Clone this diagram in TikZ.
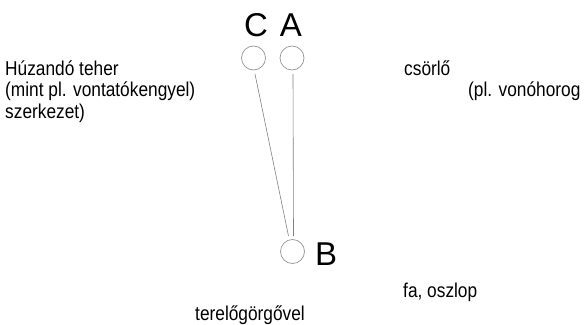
\documentclass[tikz,border=0pt]{standalone}
\usepackage{fontspec}
\setmainfont{Liberation Sans}
\newfontfamily\narrowfont[FakeStretch=0.865]{Liberation Sans}
\begin{document}
\begin{tikzpicture}[x=1pt,y=-1pt,
  lbl/.style={inner sep=0pt,font=\narrowfont\fontsize{20}{21.5}\selectfont,anchor=base west},
  big/.style={inner sep=0pt,font=\fontsize{33}{35}\selectfont,anchor=base},
  pulley/.style={circle,draw=black!42,line width=0.7pt,minimum size=24pt,inner sep=0pt},
  rope/.style={draw=black!50,line width=0.6pt}]
\useasboundingbox (0,0) rectangle (586,324);
\node[pulley] (C) at (253.5,58) {};
\node[pulley] (A) at (292,58) {};
\node[pulley] (B) at (292.5,251.5) {};
\node[big] (Cl) at (256,36.5) {C};
\node[big] (Al) at (291,36.5) {A};
\node[big,anchor=base west] (Bl) at (315,265) {B};
\coordinate (Ct) at (255,74);
\coordinate (At) at (293,74);
\coordinate (B1) at (288.5,236);
\coordinate (B2) at (293.5,236);
\draw[rope] (Ct) -- (B1);
\draw[rope] (At) -- (B2);
\node[lbl] (t1a) at (5,75) {Húzandó teher};
\node[lbl] (t1b) at (5,96.5) {(mint pl. vontatókengyel)};
\node[lbl] (t1c) at (5,118) {szerkezet)};
\node[lbl] (t2) at (404,75) {csörlő};
\node[lbl] (t3) at (468,96.5) {(pl. vonóhorog};
\node[lbl] (t4) at (403,297) {fa, oszlop};
\node[lbl] (t5) at (195,320) {terelőgörgővel};
\end{tikzpicture}
\end{document}
